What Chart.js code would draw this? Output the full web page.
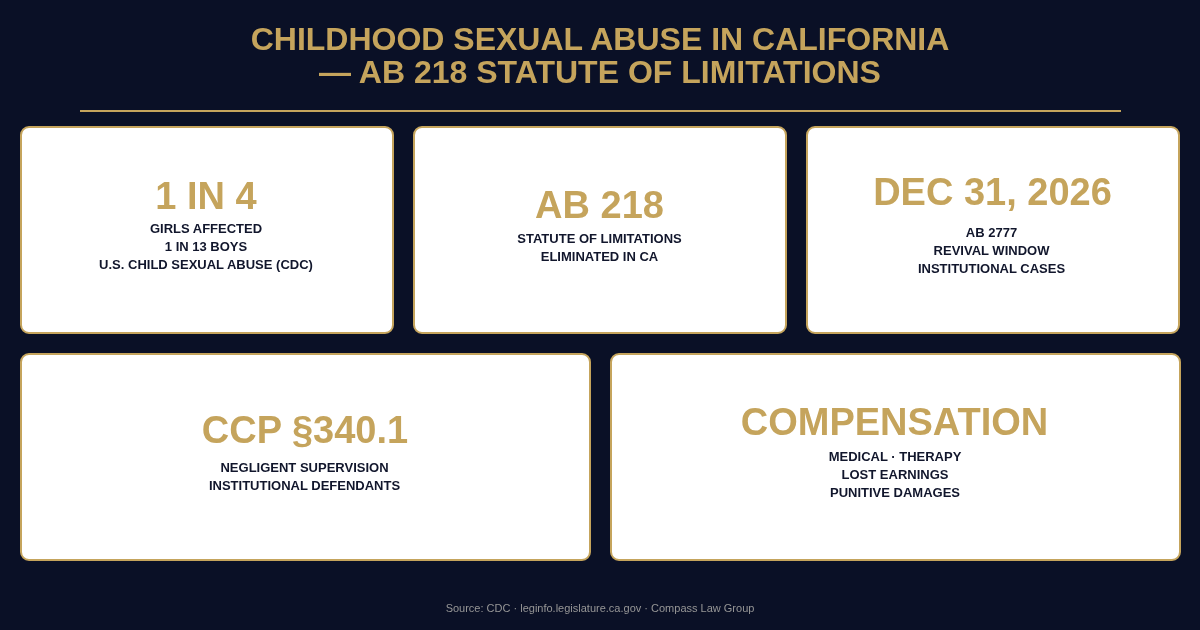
<!DOCTYPE html>
<html><head><meta charset="utf-8">
<style>html,body{margin:0;padding:0;background:#0a1026;width:1200px;height:630px;overflow:hidden}canvas{display:block}</style>
<script src="https://cdn.jsdelivr.net/npm/chart.js@4/dist/chart.umd.min.js"></script>
</head><body>
<div style="width:1200px;height:630px;position:relative"><canvas id="c" width="1200" height="630"></canvas></div>
<script>
const titleLines = ["CHILDHOOD SEXUAL ABUSE IN CALIFORNIA", "— AB 218 STATUTE OF LIMITATIONS"];
const headlines = ["1 IN 4", "AB 218", "DEC 31, 2026", "CCP §340.1", "COMPENSATION"];
const details = [
  ["GIRLS AFFECTED", "1 IN 13 BOYS", "U.S. CHILD SEXUAL ABUSE (CDC)"],
  ["STATUTE OF LIMITATIONS", "ELIMINATED IN CA"],
  ["AB 2777", "REVIVAL WINDOW", "INSTITUTIONAL CASES"],
  ["NEGLIGENT SUPERVISION", "INSTITUTIONAL DEFENDANTS"],
  ["MEDICAL · THERAPY", "LOST EARNINGS", "PUNITIVE DAMAGES"]
];
const source = "Source: CDC · leginfo.legislature.ca.gov · Compass Law Group";
const cards = [[21,127,372,206],[414,127,372,206],[807,127,372,206],[21,354,569,206],[611,354,569,206]];
const textCx = [206,599.5,992.5,305,894.5];
const detailCx = [206,599.5,991.5,304.5,895];
const headlineY = [199,208,195,433,425];
const firstDetailY = [229,239,233,468,457];
const detailGap = 18;
const F = '"Liberation Sans", Arial, sans-serif';
const GOLD = '#c5a45c', NAVY = '#0a1026';

const infographic = {
  id: 'infographic',
  beforeDraw(chart) {
    const x = chart.ctx;
    x.save();
    x.fillStyle = NAVY; x.fillRect(0,0,1200,630);
    x.textAlign='center'; x.textBaseline='middle';
    x.textRendering='optimizeLegibility';
    x.fillStyle = GOLD; x.font = 'bold 32px '+F;
    x.fillText(titleLines[0],600,41); x.fillText(titleLines[1],600,74);
    x.strokeStyle = GOLD; x.lineWidth = 2;
    x.beginPath(); x.moveTo(80,111); x.lineTo(1121,111); x.stroke();
    cards.forEach((c,i)=>{
      x.beginPath(); x.roundRect(c[0],c[1],c[2],c[3],8);
      x.fillStyle='#ffffff'; x.fill();
      x.strokeStyle=GOLD; x.lineWidth=2; x.stroke();
      x.fillStyle=GOLD; x.font='bold 38px '+F;
      x.fillText(headlines[i],textCx[i],headlineY[i]);
      x.fillStyle='#11162c'; x.font='bold 13px '+F;
      details[i].forEach((t,j)=>x.fillText(t,detailCx[i],firstDetailY[i]+j*detailGap));
    });
    x.fillStyle='#969696'; x.font='11px '+F;
    x.fillText(source,600,609);
    x.restore();
  }
};
new Chart(document.getElementById('c'),{
  type:'scatter',
  data:{datasets:[]},
  options:{responsive:false,animation:false,events:[],
    plugins:{legend:{display:false},title:{display:false},tooltip:{enabled:false}},
    scales:{x:{display:false},y:{display:false}}},
  plugins:[infographic]
});
</script>
</body></html>
